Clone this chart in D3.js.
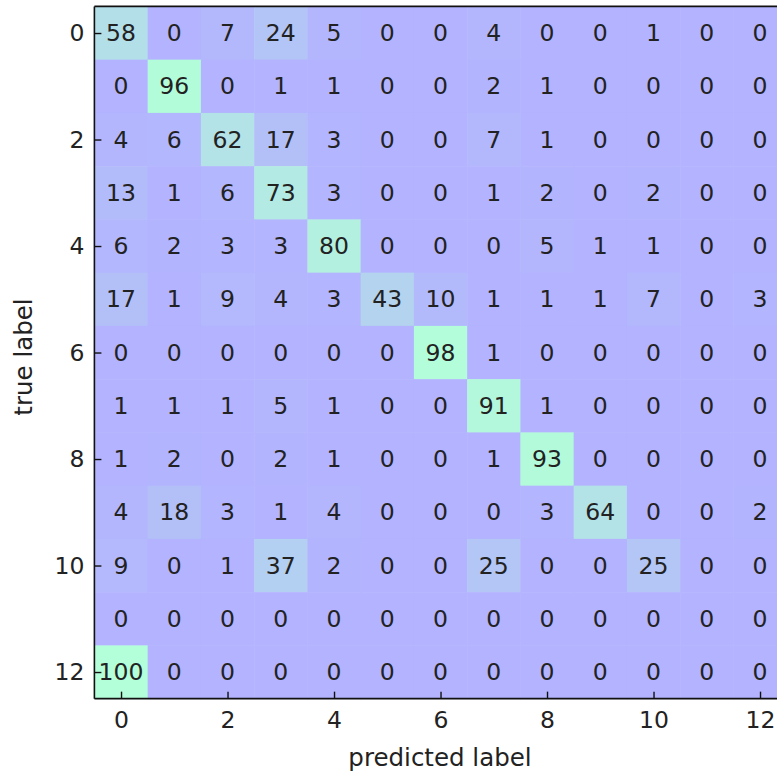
<!DOCTYPE html>
<html>
<head>
<meta charset="utf-8">
<script src="https://cdn.jsdelivr.net/npm/d3@7"></script>
<style>
  html, body { margin: 0; padding: 0; background: #fff; }
  svg { display: block; }
  text { font-family: "DejaVu Sans", sans-serif; }
</style>
</head>
<body>
<svg id="chart" width="777" height="773"></svg>
<script>
// Class indices for both axes
const classes = d3.range(13);
const tickLabels = [0, 2, 4, 6, 8, 10, 12];

// Confusion matrix (percent of each true class), one row per true label
const row0  = [58, 0, 7, 24, 5, 0, 0, 4, 0, 0, 1, 0, 0];
const row1  = [0, 96, 0, 1, 1, 0, 0, 2, 1, 0, 0, 0, 0];
const row2  = [4, 6, 62, 17, 3, 0, 0, 7, 1, 0, 0, 0, 0];
const row3  = [13, 1, 6, 73, 3, 0, 0, 1, 2, 0, 2, 0, 0];
const row4  = [6, 2, 3, 3, 80, 0, 0, 0, 5, 1, 1, 0, 0];
const row5  = [17, 1, 9, 4, 3, 43, 10, 1, 1, 1, 7, 0, 3];
const row6  = [0, 0, 0, 0, 0, 0, 98, 1, 0, 0, 0, 0, 0];
const row7  = [1, 1, 1, 5, 1, 0, 0, 91, 1, 0, 0, 0, 0];
const row8  = [1, 2, 0, 2, 1, 0, 0, 1, 93, 0, 0, 0, 0];
const row9  = [4, 18, 3, 1, 4, 0, 0, 0, 3, 64, 0, 0, 2];
const row10 = [9, 0, 1, 37, 2, 0, 0, 25, 0, 0, 25, 0, 0];
const row11 = [0, 0, 0, 0, 0, 0, 0, 0, 0, 0, 0, 0, 0];
const row12 = [100, 0, 0, 0, 0, 0, 0, 0, 0, 0, 0, 0, 0];
const matrix = [row0, row1, row2, row3, row4, row5, row6, row7, row8, row9, row10, row11, row12];

const cells = [];
matrix.forEach((row, i) => row.forEach((v, j) => cells.push({ t: i, p: j, v })));

const svg = d3.select("#chart");
const plotLeft = 94.4, plotTop = 6.4, cell = 53.25;
const plotRight = plotLeft + 13 * cell, plotBottom = plotTop + 13 * cell;
const x = d3.scaleBand().domain(classes).range([plotLeft, plotRight]);
const y = d3.scaleBand().domain(classes).range([plotTop, plotBottom]);

// "winter" colormap laid at 30% opacity over white
const norm = d3.scaleLinear().domain([0, 100]).range([0, 1]).clamp(true);
function color(v) {
  const s = norm(v);
  const a = 0.3;
  const r = 1 - a;
  const g = 1 - a + a * s;
  const b = 1 - a + a * (1 - 0.5 * s);
  return d3.rgb(r * 255, g * 255, b * 255).toString();
}

const plot = svg.append("g");
plot.selectAll("rect.cell").data(cells).join("rect")
  .attr("class", "cell")
  .attr("x", d => x(d.p))
  .attr("y", d => y(d.t))
  .attr("width", x.bandwidth() + 0.5)
  .attr("height", y.bandwidth() + 0.5)
  .attr("fill", d => color(d.v));

plot.selectAll("text.val").data(cells).join("text")
  .attr("class", "val")
  .attr("x", d => x(d.p) + x.bandwidth() / 2)
  .attr("y", d => y(d.t) + y.bandwidth() / 2)
  .attr("text-anchor", "middle")
  .attr("dominant-baseline", "central")
  .attr("font-size", 23.5)
  .attr("fill", "#222")
  .text(d => d.v);

// Frame
const frame = svg.append("g").attr("stroke", "#111").attr("stroke-width", 1.6).attr("fill", "none");
frame.append("line").attr("x1", plotLeft).attr("x2", plotLeft).attr("y1", plotTop).attr("y2", plotBottom);
frame.append("line").attr("x1", plotLeft).attr("x2", plotRight).attr("y1", plotTop).attr("y2", plotTop);
frame.append("line").attr("x1", plotLeft).attr("x2", plotRight).attr("y1", plotBottom).attr("y2", plotBottom);
frame.append("line").attr("x1", plotRight).attr("x2", plotRight).attr("y1", plotTop).attr("y2", plotBottom);

// Axes with inward ticks
const xc = d3.scalePoint().domain(classes).range([plotLeft + cell / 2, plotRight - cell / 2]);
const yc = d3.scalePoint().domain(classes).range([plotTop + cell / 2, plotBottom - cell / 2]);

const xAxis = svg.append("g").attr("transform", `translate(0,${plotBottom})`)
  .call(d3.axisBottom(xc).tickValues(tickLabels).tickSizeInner(-7).tickSizeOuter(0).tickPadding(13));
const yAxis = svg.append("g").attr("transform", `translate(${plotLeft},0)`)
  .call(d3.axisLeft(yc).tickValues(tickLabels).tickSizeInner(-7).tickSizeOuter(0).tickPadding(10));

[xAxis, yAxis].forEach(g => {
  g.select(".domain").remove();
  g.selectAll(".tick line").attr("stroke", "#111").attr("stroke-width", 1.4);
  g.selectAll(".tick text").attr("font-size", 23.5).attr("fill", "#222")
    .attr("font-family", "DejaVu Sans, sans-serif");
});

svg.append("text")
  .attr("x", 440).attr("y", 766)
  .attr("text-anchor", "middle")
  .attr("font-size", 24.5).attr("fill", "#222")
  .text("predicted label");

svg.append("text")
  .attr("transform", `translate(32,357) rotate(-90)`)
  .attr("text-anchor", "middle")
  .attr("font-size", 24.5).attr("fill", "#222")
  .text("true label");
</script>
</body>
</html>
